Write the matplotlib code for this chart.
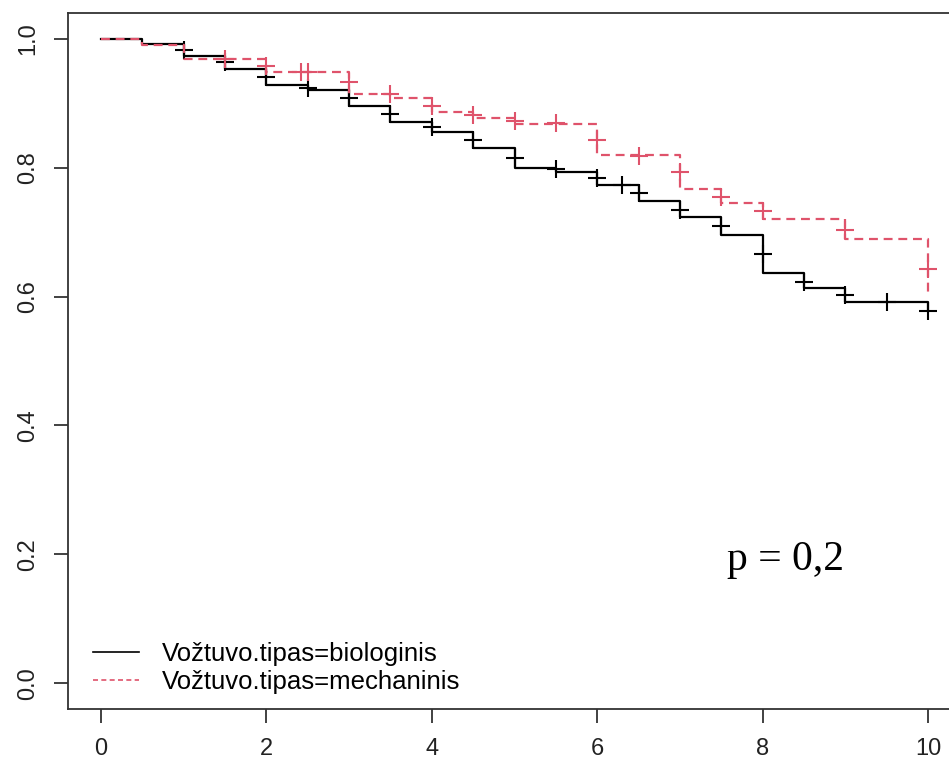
import matplotlib
matplotlib.use('Agg')
import matplotlib.pyplot as plt
from matplotlib.lines import Line2D

# Kaplan-Meier step data (time in years, survival probability)
bio_times = [0, 0.5, 1.0, 1.5, 2.0, 2.5, 3.0, 3.5, 4.0, 4.5, 5.0, 5.5, 6.0, 6.5, 7.0, 7.5, 8.0, 8.5, 9.0, 10.0]
bio_surv = [1.0, 0.992, 0.973, 0.953, 0.928, 0.921, 0.896, 0.871, 0.855, 0.830, 0.800, 0.793, 0.773,
            0.748, 0.724, 0.696, 0.636, 0.614, 0.591, 0.577]
bio_cens_t = [1.0, 1.5, 2.0, 2.5, 3.0, 3.5, 4.0, 4.5, 5.0, 5.5, 6.0, 6.3, 6.5, 7.0, 7.5, 8.0, 8.5, 9.0, 9.5, 10.0]
bio_cens_s = [0.983, 0.964, 0.941, 0.923, 0.908, 0.884, 0.863, 0.843, 0.815, 0.798, 0.784, 0.773, 0.761,
              0.734, 0.709, 0.666, 0.623, 0.602, 0.591, 0.577]

mech_times = [0, 0.5, 1.0, 2.0, 3.0, 3.5, 4.0, 4.5, 5.0, 6.0, 7.0, 7.5, 8.0, 9.0, 10.0]
mech_surv = [1.0, 0.990, 0.968, 0.948, 0.915, 0.908, 0.886, 0.877, 0.868, 0.820, 0.767, 0.745, 0.720,
             0.689, 0.605]
mech_cens_t = [1.5, 2.0, 2.42, 2.5, 3.0, 3.5, 4.0, 4.5, 5.0, 5.5, 6.0, 6.5, 7.0, 7.5, 8.0, 9.0, 10.0]
mech_cens_s = [0.968, 0.957, 0.948, 0.948, 0.933, 0.914, 0.896, 0.882, 0.873, 0.869, 0.843, 0.818,
               0.794, 0.755, 0.733, 0.703, 0.642]

labels = ['Vožtuvo.tipas=biologinis', 'Vožtuvo.tipas=mechaninis']
x_ticks = [0, 2, 4, 6, 8, 10]
y_ticks = [0.0, 0.2, 0.4, 0.6, 0.8, 1.0]
p_text = 'p = 0,2'

RED = '#DF536B'
W, H = 949, 762

plt.rcParams['font.family'] = ['Liberation Sans', 'DejaVu Sans']

fig = plt.figure(figsize=(W / 100, H / 100), dpi=100)
fig.patch.set_facecolor('white')
# axes box in pixels: left 68, right 961 (past the image edge), top 13, bottom 709
ax = fig.add_axes([68 / W, (H - 709) / H, (961 - 68) / W, (709 - 13) / H])

ax.step(bio_times, bio_surv, where='post', color='black', linewidth=1.6)
ax.plot(bio_cens_t, bio_cens_s, linestyle='none', marker='+', color='black',
        markersize=13, markeredgewidth=1.5)

ax.step(mech_times, mech_surv, where='post', color=RED, linewidth=1.6, dashes=(4, 2.6))
ax.plot(mech_cens_t, mech_cens_s, linestyle='none', marker='+', color=RED,
        markersize=13, markeredgewidth=1.5)

ax.set_xlim(-0.4, 10.4)
ax.set_ylim(-0.04, 1.04)
ax.set_xticks(x_ticks)
ax.set_xticklabels([str(t) for t in x_ticks])
ax.set_yticks(y_ticks)
ax.set_yticklabels([f'{t:.1f}' for t in y_ticks], rotation=90, va='center')

for s in ax.spines.values():
    s.set_color('#333333')
    s.set_linewidth(1.3)
ax.tick_params(length=10, width=1.3, color='#333333', labelsize=17,
               labelcolor='#222222', pad=11)

handles = [Line2D([], [], color='black', linewidth=1.2),
           Line2D([], [], color=RED, linewidth=1.2, dashes=(3, 2))]
ax.legend(handles, labels, loc='upper left', bbox_to_anchor=(93 / W, (H - 642) / H),
          bbox_transform=fig.transFigure, frameon=False, fontsize=18.5,
          handlelength=1.8, handletextpad=0.9, labelspacing=0.17,
          borderpad=0, borderaxespad=0)

ax.text(7.57, 0.175, p_text, family=['Liberation Serif', 'DejaVu Serif'],
        fontsize=30, ha='left', va='baseline', color='black')

fig.savefig('out.png', dpi=100, facecolor='white')
